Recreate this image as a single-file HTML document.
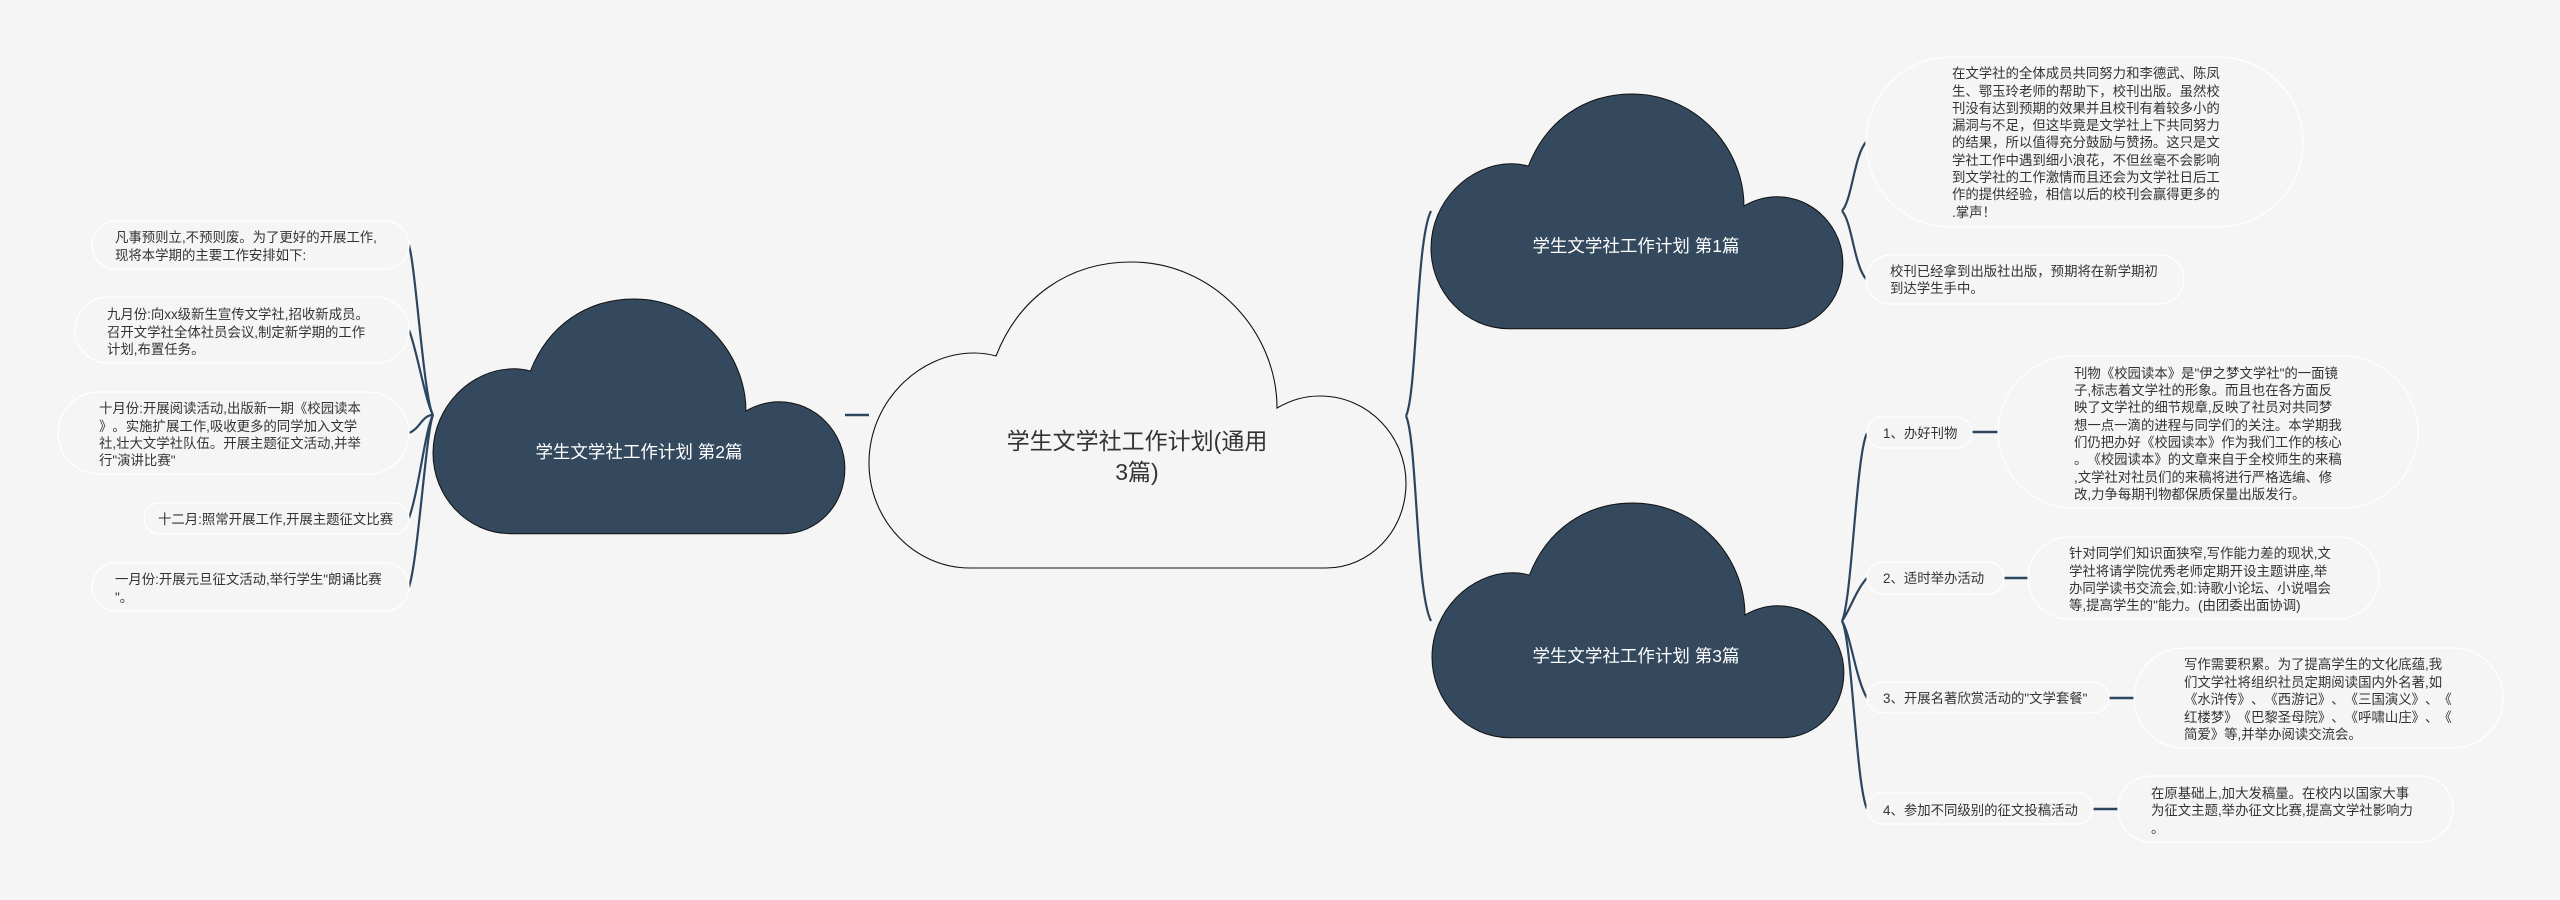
<!DOCTYPE html>
<html lang="zh">
<head>
<meta charset="utf-8">
<title>学生文学社工作计划</title>
<style>
html,body{margin:0;padding:0;background:#f5f5f5;width:2560px;height:900px;overflow:hidden}
svg{display:block;text-spacing-trim:space-all;font-kerning:none;font-feature-settings:"chws" 0,"halt" 0,"palt" 0,"kern" 0}
text{font-family:"Liberation Sans","Noto Sans CJK SC",sans-serif;font-size:13.4px;fill:#333;text-spacing-trim:space-all}
.p{fill:#f5f5f5;stroke:#fff;stroke-width:1.2}
.c{fill:none;stroke:#2c4660;stroke-width:2.2}
.t{fill:none;stroke:#2c4660;stroke-width:2.6}
.k{stroke:#111;stroke-width:1.3}
.w{fill:#fff;font-size:17.5px}
.m{font-size:23px;fill:#333}
</style>
</head>
<body>
<svg width="2560" height="900" viewBox="0 0 2560 900" xmlns="http://www.w3.org/2000/svg">
<rect width="2560" height="900" fill="#f5f5f5"/>

<!-- connectors -->
<path class="t" d="M845 415H869"/>
<path class="c" d="M1406 416C1417 393 1416 240 1431 211"/>
<path class="c" d="M1406 416C1417 439 1416 592 1431 621"/>

<path class="c" d="M433 415C424 400 416 270 409 245"/>
<path class="c" d="M433 415C425 400 417 350 409 330"/>
<path class="c" d="M433 415C422 415 420 429 409 433"/>
<path class="c" d="M433 415C425 430 419 490 409 518"/>
<path class="c" d="M433 415C426 432 418 560 409 587"/>

<path class="c" d="M1842 211C1852 200 1854 156 1866 142"/>
<path class="c" d="M1842 211C1852 222 1854 265 1866 279"/>

<path class="c" d="M1842 621C1852 600 1856 455 1867 433"/>
<path class="c" d="M1842 621C1850 610 1856 590 1867 578"/>
<path class="c" d="M1842 621C1851 636 1856 680 1867 698"/>
<path class="c" d="M1842 621C1852 640 1856 785 1867 809"/>

<path class="t" d="M1972 432H1998"/>
<path class="t" d="M2004 578H2029"/>
<path class="t" d="M2109 698H2134"/>
<path class="t" d="M2093 809H2118"/>

<!-- clouds -->
<path transform="translate(869 262)" fill="#f5f5f5" stroke="#111" stroke-width="1.1" d="M127 94C150 35 200 0 262 0C345 0 408 70 408 146C422 138 435 134 451 134C500 134 537 175 537 221C537 270 500 306 457 306L101 306C45 306 0 258 0 201C0 140 50 91 105 91C113 91 120 92 127 94Z"/>
<path class="k" fill="#34495e" transform="translate(433 299) scale(.767)" d="M127 94C150 35 200 0 262 0C345 0 408 70 408 146C422 138 435 134 451 134C500 134 537 175 537 221C537 270 500 306 457 306L101 306C45 306 0 258 0 201C0 140 50 91 105 91C113 91 120 92 127 94Z"/>
<path class="k" fill="#34495e" transform="translate(1431 94) scale(.767)" d="M127 94C150 35 200 0 262 0C345 0 408 70 408 146C422 138 435 134 451 134C500 134 537 175 537 221C537 270 500 306 457 306L101 306C45 306 0 258 0 201C0 140 50 91 105 91C113 91 120 92 127 94Z"/>
<path class="k" fill="#34495e" transform="translate(1432 503) scale(.767)" d="M127 94C150 35 200 0 262 0C345 0 408 70 408 146C422 138 435 134 451 134C500 134 537 175 537 221C537 270 500 306 457 306L101 306C45 306 0 258 0 201C0 140 50 91 105 91C113 91 120 92 127 94Z"/>

<text class="m" x="1137" y="449" text-anchor="middle">学生文学社工作计划(通用</text>
<text class="m" x="1137" y="480" text-anchor="middle">3篇)</text>
<text class="w" x="639" y="458" text-anchor="middle">学生文学社工作计划 第2篇</text>
<text class="w" x="1636" y="252" text-anchor="middle">学生文学社工作计划 第1篇</text>
<text class="w" x="1636" y="662" text-anchor="middle">学生文学社工作计划 第3篇</text>

<!-- left pills -->
<rect class="p" x="92" y="221" width="317" height="48" rx="24"/>
<rect class="p" x="75" y="297" width="334" height="66" rx="33"/>
<rect class="p" x="58" y="392" width="351" height="82" rx="41"/>
<rect class="p" x="144" y="503" width="265" height="31" rx="15.5"/>
<rect class="p" x="92" y="563" width="317" height="48" rx="24"/>

<text x="115" y="242">凡事预则立,不预则废。为了更好的开展工作,</text>
<text x="115" y="260">现将本学期的主要工作安排如下:</text>

<text x="107" y="319">九月份:向xx级新生宣传文学社,招收新成员。</text>
<text x="107" y="337">召开文学社全体社员会议,制定新学期的工作</text>
<text x="107" y="354">计划,布置任务。</text>

<text x="99" y="413">十月份:开展阅读活动,出版新一期《校园读本</text>
<text x="99" y="431">》。实施扩展工作,吸收更多的同学加入文学</text>
<text x="99" y="448">社,壮大文学社队伍。开展主题征文活动,并举</text>
<text x="99" y="465">行"演讲比赛"</text>

<text x="158" y="524">十二月:照常开展工作,开展主题征文比赛</text>

<text x="115" y="584">一月份:开展元旦征文活动,举行学生"朗诵比赛</text>
<text x="115" y="602">"。</text>

<!-- right: cloud 1 -->
<rect class="p" x="1866" y="57" width="437" height="170" rx="85"/>
<rect class="p" x="1866" y="255" width="318" height="49" rx="24.5"/>

<text x="1952" y="78">在文学社的全体成员共同努力和李德武、陈凤</text>
<text x="1952" y="96">生、鄂玉玲老师的帮助下，校刊出版。虽然校</text>
<text x="1952" y="113">刊没有达到预期的效果并且校刊有着较多小的</text>
<text x="1952" y="130">漏洞与不足，但这毕竟是文学社上下共同努力</text>
<text x="1952" y="147">的结果，所以值得充分鼓励与赞扬。这只是文</text>
<text x="1952" y="165">学社工作中遇到细小浪花，不但丝毫不会影响</text>
<text x="1952" y="182">到文学社的工作激情而且还会为文学社日后工</text>
<text x="1952" y="199">作的提供经验，相信以后的校刊会赢得更多的</text>
<text x="1952" y="217">.掌声！</text>

<text x="1890" y="276">校刊已经拿到出版社出版，预期将在新学期初</text>
<text x="1890" y="293">到达学生手中。</text>

<!-- right: cloud 3 -->
<rect class="p" x="1867" y="417" width="105" height="31" rx="15.5"/>
<rect class="p" x="1998" y="356" width="420" height="152" rx="76"/>
<rect class="p" x="1867" y="562" width="137" height="32" rx="16"/>
<rect class="p" x="2028" y="537" width="351" height="82" rx="41"/>
<rect class="p" x="1867" y="682" width="242" height="31" rx="15.5"/>
<rect class="p" x="2134" y="648" width="369" height="100" rx="50"/>
<rect class="p" x="1867" y="793" width="226" height="31" rx="15.5"/>
<rect class="p" x="2118" y="776" width="335" height="66" rx="33"/>

<text x="1883" y="438">1、办好刊物</text>
<text x="1883" y="583">2、适时举办活动</text>
<text x="1883" y="703">3、开展名著欣赏活动的"文学套餐"</text>
<text x="1883" y="815">4、参加不同级别的征文投稿活动</text>

<text x="2074" y="378">刊物《校园读本》是"伊之梦文学社"的一面镜</text>
<text x="2074" y="395">子,标志着文学社的形象。而且也在各方面反</text>
<text x="2074" y="412">映了文学社的细节规章,反映了社员对共同梦</text>
<text x="2074" y="430">想一点一滴的进程与同学们的关注。本学期我</text>
<text x="2074" y="447">们仍把办好《校园读本》作为我们工作的核心</text>
<text x="2074" y="464">。《校园读本》的文章来自于全校师生的来稿</text>
<text x="2074" y="482">,文学社对社员们的来稿将进行严格选编、修</text>
<text x="2074" y="499">改,力争每期刊物都保质保量出版发行。</text>

<text x="2069" y="558">针对同学们知识面狭窄,写作能力差的现状,文</text>
<text x="2069" y="576">学社将请学院优秀老师定期开设主题讲座,举</text>
<text x="2069" y="593">办同学读书交流会,如:诗歌小论坛、小说唱会</text>
<text x="2069" y="610">等,提高学生的"能力。(由团委出面协调)</text>

<text x="2184" y="669">写作需要积累。为了提高学生的文化底蕴,我</text>
<text x="2184" y="687">们文学社将组织社员定期阅读国内外名著,如</text>
<text x="2184" y="704">《水浒传》、《西游记》、《三国演义》、《</text>
<text x="2184" y="722">红楼梦》《巴黎圣母院》、《呼啸山庄》、《</text>
<text x="2184" y="739">简爱》等,并举办阅读交流会。</text>

<text x="2151" y="798">在原基础上,加大发稿量。在校内以国家大事</text>
<text x="2151" y="815">为征文主题,举办征文比赛,提高文学社影响力</text>
<text x="2151" y="833">。</text>
</svg>
</body>
</html>
